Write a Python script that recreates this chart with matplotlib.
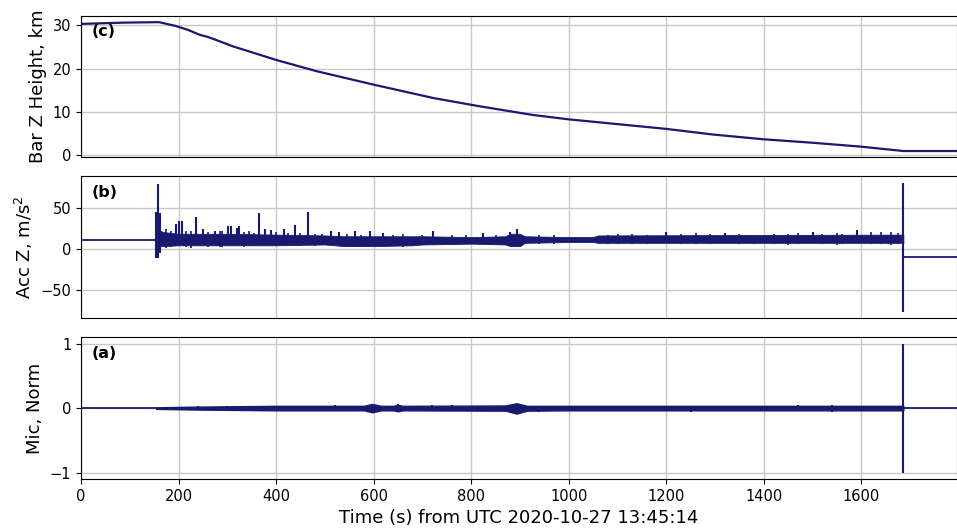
import numpy as np
import matplotlib.pyplot as plt

line_color = 'midnightblue'

# (c) barometric height, km
height_t = [0, 90, 160, 195, 220, 243, 260, 277, 312, 366, 400, 483, 600, 723,
            818, 927, 1000, 1200, 1296, 1400, 1501, 1600, 1686, 1795]
height_km = [30.3, 30.6, 30.7, 29.8, 28.9, 27.8, 27.3, 26.6, 25.1, 23.2, 22.0,
             19.4, 16.3, 13.2, 11.3, 9.3, 8.3, 6.1, 4.8, 3.7, 2.9, 2.0, 1.0, 1.0]

# (b) acceleration Z: quiet parts, envelope of the noisy part, spikes
acc_pre_t = [0, 154]
acc_pre = [10.0, 10.0]
acc_post_t = [1688, 1795]
acc_post = [-9.8, -9.8]
acc_t = [154, 160, 170, 200, 230, 300, 400, 500, 540, 600, 680, 700, 800, 870,
         880, 900, 910, 1000, 1050, 1060, 1686]
acc_upper = [20, 22, 20, 18, 18, 18, 17, 16, 15, 15, 15, 15, 14, 15, 18, 18, 15,
             14, 14, 16, 17]
acc_lower = [3, 3, 3, 4, 4, 4, 4, 5, 3, 3, 4, 5, 6, 5, 3, 3, 7, 8, 8, 7, 7]
acc_spike_t = [153, 157, 163, 195, 201, 207, 236, 250, 274, 301, 308, 319, 325,
               366, 377, 390, 417, 438, 465, 513, 530, 561, 592, 619, 722, 824,
               879, 893, 1200, 1320, 1500, 1590, 1686]
acc_spike_hi = [45, 79, 43, 30, 33, 33, 38, 24, 22, 28, 27, 25, 28, 43, 24, 23,
                24, 29, 44, 22, 20, 22, 22, 19, 21, 19, 20, 24, 20, 19, 20, 23, 80]
acc_spike_lo = [-11, -11, -5, 5, 5, 5, 5, 5, 5, 5, 5, 5, 5, 5, 5, 5, 5, 5, 5, 5,
                5, 2, 5, 5, 5, 5, 5, 3, 7, 7, 7, 7, -77]
# smaller wiggles on the band edges
acc_fuzz_t = [175, 185, 215, 225, 260, 285, 290, 335, 345, 355, 400, 425, 450,
              480, 495, 545, 575, 640, 660, 700, 760, 790, 850, 940, 970, 1080,
              1100, 1130, 1160, 1230, 1260, 1290, 1350, 1380, 1420, 1450, 1470,
              1520, 1550, 1560, 1620, 1640, 1660, 1675]
acc_fuzz_hi = [24, 22, 21, 22, 20, 22, 21, 20, 21, 19, 20, 19, 19, 18, 18, 18,
               17, 17, 18, 17, 17, 17, 16, 17, 16, 17, 18, 18, 17, 18, 19, 18, 18,
               17, 18, 18, 19, 18, 19, 18, 20, 20, 20, 19]
acc_fuzz_lo = [1, 2, 2, 1, 2, 2, 2, 2, 3, 3, 3, 3, 3, 3, 4, 2, 2, 3, 2, 4, 5, 5,
               5, 6, 6, 5, 5, 5, 5, 5, 5, 5, 5, 5, 5, 4, 5, 5, 4, 5, 5, 5, 4, 5]

# (a) microphone, normalised
mic_pre_t = [0, 154]
mic_pre = [0.0, 0.0]
mic_post_t = [1688, 1795]
mic_post = [0.0, 0.0]
mic_t = [154, 230, 400, 580, 597, 615, 640, 650, 660, 870, 893, 915, 1000, 1686]
mic_upper = [0.012, 0.022, 0.035, 0.035, 0.065, 0.035, 0.035, 0.05, 0.035, 0.04,
             0.075, 0.035, 0.035, 0.035]
mic_lower = [-0.012, -0.022, -0.035, -0.035, -0.065, -0.035, -0.035, -0.05,
             -0.035, -0.04, -0.085, -0.04, -0.035, -0.035]
mic_spike_t = [240, 300, 370, 420, 470, 520, 650, 720, 760, 820, 940, 1010, 1070,
               1130, 1250, 1320, 1390, 1470, 1540, 1610, 1686]
mic_spike_hi = [0.03, 0.04, 0.04, 0.04, 0.04, 0.05, 0.06, 0.05, 0.05, 0.04, 0.04,
                0.04, 0.04, 0.04, 0.03, 0.04, 0.04, 0.05, 0.05, 0.04, 1.0]
mic_spike_lo = [-0.03, -0.04, -0.04, -0.05, -0.05, -0.05, -0.05, -0.05, -0.04,
                -0.05, -0.06, -0.05, -0.05, -0.05, -0.06, -0.05, -0.05, -0.05,
                -0.06, -0.04, -1.0]

t_max = 1795

fig, axes = plt.subplots(3, 1, figsize=(9.57, 5.31), dpi=100, sharex=True)
fig.subplots_adjust(left=0.0846, right=0.9995, top=0.9704, bottom=0.098,
                    hspace=0.134)
ax_h, ax_acc, ax_mic = axes

ax_h.plot(height_t, height_km, color=line_color, lw=1.6)

ax_acc.plot(acc_pre_t, acc_pre, color=line_color, lw=1.3)
ax_acc.plot(acc_post_t, acc_post, color=line_color, lw=1.3)
ax_acc.fill_between(acc_t, acc_lower, acc_upper, color=line_color, lw=0.6,
                    edgecolor=line_color)
ax_acc.vlines(acc_spike_t, acc_spike_lo, acc_spike_hi, color=line_color, lw=1.5)
ax_acc.vlines(acc_fuzz_t, acc_fuzz_lo, acc_fuzz_hi, color=line_color, lw=1.2)

ax_mic.plot(mic_pre_t, mic_pre, color=line_color, lw=1.3)
ax_mic.plot(mic_post_t, mic_post, color=line_color, lw=1.3)
ax_mic.fill_between(mic_t, mic_lower, mic_upper, color=line_color, lw=1.0,
                    edgecolor=line_color)
ax_mic.vlines(mic_spike_t, mic_spike_lo, mic_spike_hi, color=line_color, lw=1.5)

ax_h.set_yticks([0, 10, 20, 30])
ax_acc.set_yticks([-50, 0, 50])
ax_mic.set_yticks([-1, 0, 1])
ax_mic.set_xticks(np.arange(0, 1601, 200))
ax_mic.set_xlim(0, t_max)

ax_h.set_ylabel('Bar Z Height, km', fontsize=13)
ax_acc.set_ylabel('Acc Z, m/s$^2$', fontsize=13)
ax_mic.set_ylabel('Mic, Norm', fontsize=13)
ax_mic.set_xlabel('Time (s) from UTC 2020-10-27 13:45:14', fontsize=13)

for ax, tag in zip(axes, ['(c)', '(b)', '(a)']):
    ax.set_axisbelow(True)
    ax.grid(True, color='#c8c8c8', lw=1.0)
    ax.tick_params(labelsize=10.5)
    ax.text(0.012, 0.94, tag, transform=ax.transAxes, fontsize=11.5,
            fontweight='bold', va='top', ha='left')
for ax in (ax_h, ax_acc):
    ax.tick_params(bottom=False, labelbottom=False)

fig.savefig('out.png', dpi=100)
